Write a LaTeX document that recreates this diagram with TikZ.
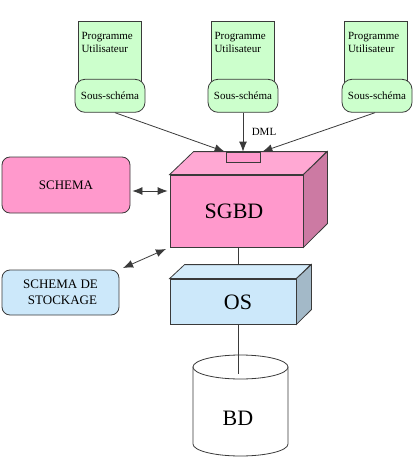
\documentclass[tikz,border=0pt]{standalone}
\usepackage{fontspec}
\setmainfont{Liberation Serif}
\usetikzlibrary{arrows.meta,calc}
\definecolor{pinkF}{HTML}{FF99CC}
\definecolor{pinkT}{HTML}{FFA8D3}
\definecolor{pinkS}{HTML}{CC7AA3}
\definecolor{blueF}{HTML}{CCE8FA}
\definecolor{blueT}{HTML}{D4ECFB}
\definecolor{blueS}{HTML}{A3B9C8}
\definecolor{greenF}{HTML}{CCFFCC}
\definecolor{edge}{HTML}{3A3A3A}
\begin{document}
\begin{tikzpicture}[x=1pt,y=-1pt,
  line/.style={draw=edge, line width=0.8pt},
  arr/.style={line, -{Latex[length=10pt,width=8pt]}},
  dbl/.style={line, {Latex[length=10pt,width=8pt]}-{Latex[length=10pt,width=8pt]}},
  progbox/.style={draw=edge, line width=0.8pt, fill=greenF, minimum width=63pt, minimum height=64pt, inner sep=0pt},
  progtxt/.style={anchor=base west, inner sep=0pt, font=\fontsize{11}{13}\selectfont},
  ssbox/.style={draw=edge, line width=0.8pt, fill=greenF, rounded corners=10pt, minimum width=70pt, minimum height=33pt, inner sep=0pt, font=\fontsize{11}{13}\selectfont},
  schemabox/.style={draw=edge, line width=0.8pt, rounded corners=8pt, inner sep=0pt, align=center, font=\fontsize{13}{16}\selectfont},
  front/.style={draw=edge, line width=0.8pt, inner sep=0pt},
  bigtxt/.style={inner sep=0pt, font=\fontsize{22}{26}\selectfont}
]
\useasboundingbox (0,0) rectangle (416,468);

% user programs
\foreach \i/\px/\sx in {1/109.5/110, 2/242.5/243, 3/376/377}{
  \node[progbox] (p\i) at (\px,53) {};
  \node[progtxt] (p\i a) at ($(p\i.north west)+(3.7,18.5)$) {Programme};
  \node[progtxt] (p\i b) at ($(p\i.north west)+(3.7,32)$) {Utilisateur};
  \node[ssbox] (s\i) at (\sx,95.8) {Sous-schéma};
}

% BD cylinder
\draw[line, fill=white] (193,367) -- (193,444) arc[start angle=180, end angle=360, x radius=47.5pt, y radius=12pt] -- (288,367) -- cycle;
\draw[line, fill=white] (240.5,367) ellipse [x radius=47.5pt, y radius=12pt];
\node[bigtxt] (bd) at (238,418) {BD};
\coordinate (bdtop) at (239,374);

% SGBD box
\node[front, fill=pinkF, minimum width=133pt, minimum height=72pt] (sgbd) at (236.5,211) {};
\draw[line, fill=pinkT] (sgbd.north west) -- ++(24,-23) -- ++(133,0) -- (sgbd.north east) -- cycle;
\draw[line, fill=pinkS] (sgbd.north east) -- ++(24,-23) -- ++(0,72) -- (sgbd.south east) -- cycle;
\node[bigtxt] (sgbdtxt) at (234,211) {SGBD};
\node[draw=edge, line width=0.8pt, fill=pinkF, minimum width=34pt, minimum height=10pt, inner sep=0pt] (dml) at (243,157) {};
\node[inner sep=0pt, font=\fontsize{11}{13}\selectfont] (dmltxt) at (264,132) {DML};

% connectors sgbd - os - bd (drawn under os box)
\coordinate (sgbdb) at ($(sgbd.south west)+(69,0)$);
\draw[line] (sgbdb) -- (sgbdb |- bdtop);

% OS box
\node[front, fill=blueF, minimum width=126pt, minimum height=45pt] (os) at (233,301.5) {};
\draw[line, fill=blueT] (os.north west) -- ++(15,-14) -- ++(126,0) -- (os.north east) -- cycle;
\draw[line, fill=blueS] (os.north east) -- ++(15,-14) -- ++(0,45) -- (os.south east) -- cycle;
\node[bigtxt] (ostxt) at (238,302.5) {OS};

% schema boxes
\node[schemabox, fill=pinkF, minimum width=128pt, minimum height=56pt] (schema) at (66,185) {\raisebox{-3pt}{SCHEMA}};
\node[schemabox, fill=blueF, minimum width=117pt, minimum height=45pt] (stock) at (60.5,292.5) {SCHEMA DE\\\hspace*{4pt}STOCKAGE};

% arrows from sub-schemas
\draw[arr] ([xshift=5pt]s1.south) -- ([xshift=-1pt]dml.north west);
\draw[arr] (s2.south) -- (dml.north);
\draw[arr] ([xshift=-2pt]s3.south) -- ([xshift=2pt]dml.north east);

% double arrows
\coordinate (sa) at ([yshift=-6pt]schema.east);
\draw[dbl, shorten <=2pt, shorten >=2pt] (sa) -- (sa -| sgbd.west);
\draw[dbl, shorten <=4pt, shorten >=4pt] (stock.north east) -- (sgbd.south west);
\end{tikzpicture}
\end{document}
